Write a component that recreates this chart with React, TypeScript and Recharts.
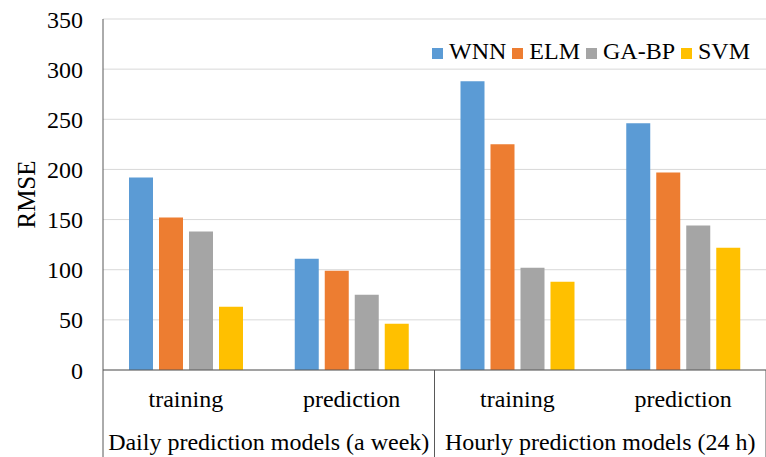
import React from 'react';
import { BarChart, Bar, XAxis, YAxis, CartesianGrid, Legend } from 'recharts';

const categories = ['training', 'prediction', 'training', 'prediction'];
const groupLabels = ['Daily prediction models (a week)', 'Hourly prediction models (24 h)'];
const wnn = [192, 111, 288, 246];
const elm = [152, 99, 225, 197];
const gabp = [138, 75, 102, 144];
const svm = [63, 46, 88, 122];
const yTicks = [0, 50, 100, 150, 200, 250, 300, 350];
const groupTicks = [0, 1, 2, 3, 4];

const seriesDefs = [
  { key: 'WNN', color: '#5B9BD5' },
  { key: 'ELM', color: '#ED7D31' },
  { key: 'GA-BP', color: '#A5A5A5' },
  { key: 'SVM', color: '#FFC000' },
];

const data = categories.map((c, i) => ({
  idx: i,
  pos: i + 0.5,
  WNN: wnn[i],
  ELM: elm[i],
  'GA-BP': gabp[i],
  SVM: svm[i],
}));

const FONT = '"Liberation Serif", "Times New Roman", serif';
const AXIS = '#595959';

const CatTick = (props: any) => {
  const { x, y, payload } = props;
  return (
    <text x={x} y={y + 37} textAnchor="middle" fontFamily={FONT} fontSize={24} fill="#000">
      {categories[payload.value]}
    </text>
  );
};

const GroupTick = (props: any) => {
  const { x, y, payload } = props;
  const v = payload.value;
  if (v % 2 === 0) {
    return <line x1={x} x2={x} y1={y - 45} y2={y + 50} stroke={AXIS} strokeWidth={1} />;
  }
  return (
    <text x={x} y={y + 35} textAnchor="middle" fontFamily={FONT} fontSize={24} fill="#000">
      {groupLabels[(v - 1) / 2]}
    </text>
  );
};

const LegendContent = () => (
  <div style={{ display: 'flex', fontFamily: FONT, fontSize: 24, lineHeight: '28px', color: '#000', whiteSpace: 'nowrap' }}>
    {seriesDefs.map((s) => (
      <span key={s.key} style={{ display: 'flex', alignItems: 'center', marginRight: 6 }}>
        <span
          style={{
            width: 11,
            height: 11,
            background: s.color,
            marginRight: 6,
            display: 'inline-block',
            position: 'relative',
            top: 2,
          }}
        />
        {s.key}
      </span>
    ))}
  </div>
);

export default function App() {
  return (
    <div style={{ position: 'absolute', left: 0, top: 0 }}>
      <BarChart
        width={766}
        height={457}
        data={data}
        margin={{ top: 19, right: 0, bottom: 0, left: 0 }}
        barCategoryGap={26}
        barGap={6}
      >
        <CartesianGrid vertical={false} stroke="#d9d9d9" />
        <XAxis
          dataKey="idx"
          type="category"
          height={45}
          tickLine={false}
          tickSize={0}
          tickMargin={0}
          axisLine={{ stroke: AXIS }}
          tick={<CatTick />}
          interval={0}
        />
        <XAxis
          xAxisId="grp"
          dataKey="pos"
          type="number"
          domain={[0, 4]}
          allowDataOverflow
          ticks={groupTicks}
          interval={0}
          height={42}
          tickLine={false}
          tickSize={0}
          tickMargin={0}
          axisLine={false}
          tick={<GroupTick />}
        />
        <YAxis
          width={103}
          domain={[0, 350]}
          ticks={yTicks}
          interval={0}
          tickLine={false}
          tickSize={0}
          tickMargin={20}
          axisLine={{ stroke: AXIS }}
          tick={{ fontFamily: FONT, fontSize: 24, fill: '#000' }}
          label={{
            content: (p: any) => {
              const vb = p.viewBox;
              const cy = vb.y + vb.height / 2;
              return (
                <text x={35} y={cy} transform={`rotate(-90, 35, ${cy})`} textAnchor="middle" fontFamily={FONT} fontSize={25} fill="#000">
                  RMSE
                </text>
              );
            },
          }}
        />
        <Legend
          layout="horizontal"
          verticalAlign="middle"
          align="center"
          wrapperStyle={{ left: 432, top: 37, width: 'auto', right: 'auto' }}
          content={<LegendContent />}
        />
        {seriesDefs.map((s) => (
          <Bar key={s.key} dataKey={s.key} name={s.key} fill={s.color} isAnimationActive={false} />
        ))}
      </BarChart>
    </div>
  );
}
